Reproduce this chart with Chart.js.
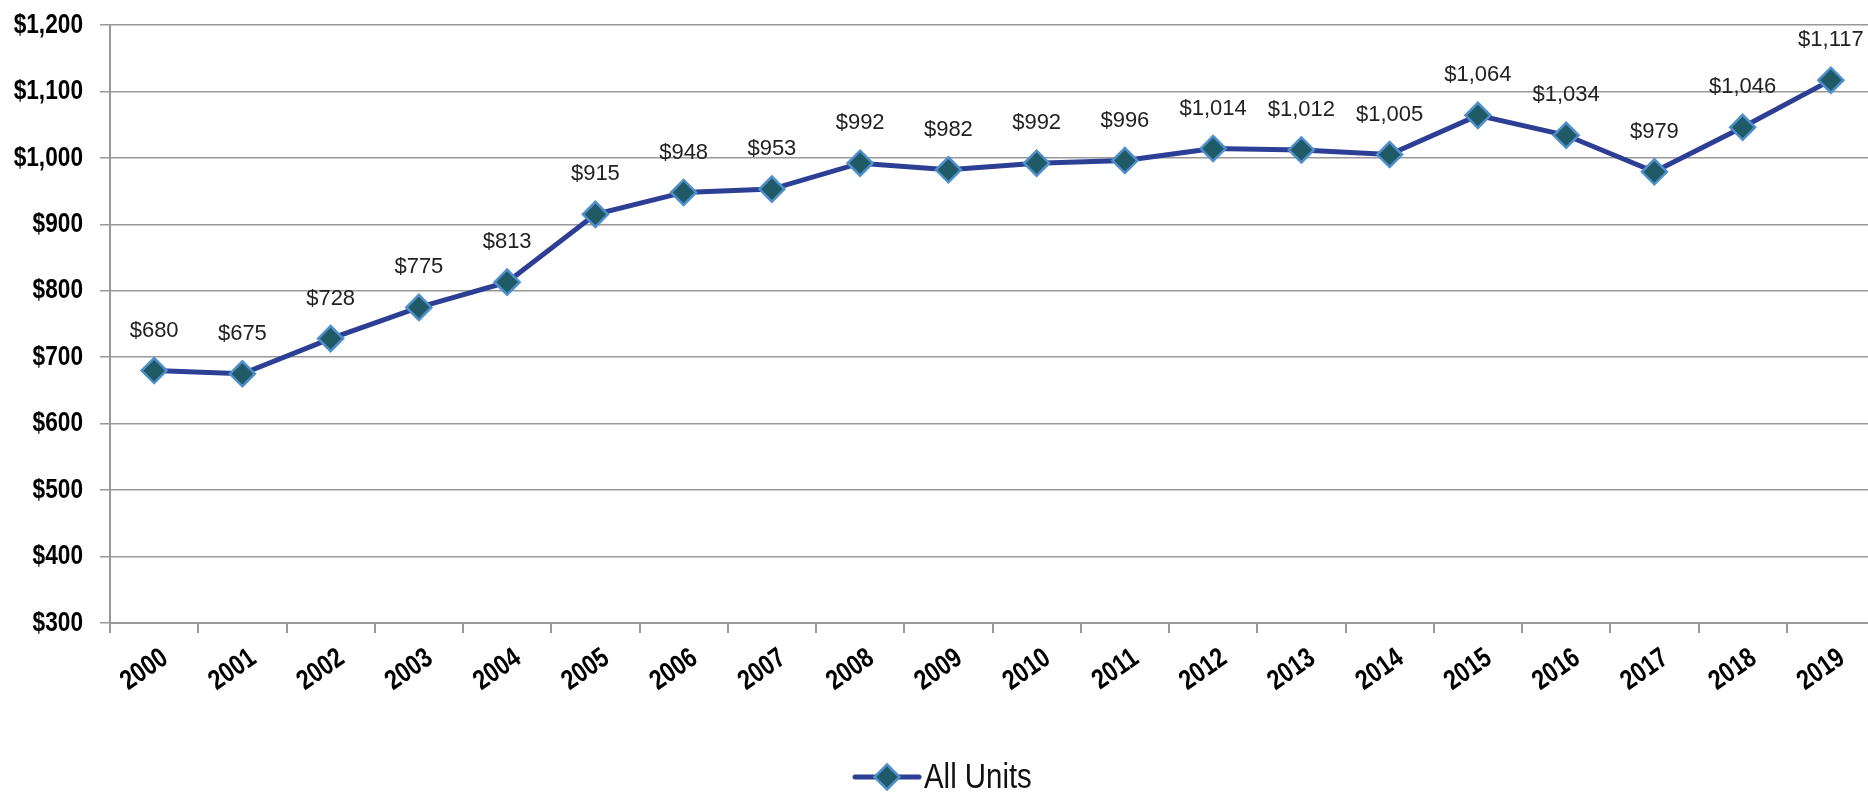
<!DOCTYPE html>
<html>
<head>
<meta charset="utf-8">
<script src="https://cdn.jsdelivr.net/npm/chart.js@4.4.0/dist/chart.umd.min.js"></script>
<style>
    html, body { margin: 0; padding: 0; background: #fff; overflow: hidden; }
    .chart-container { position: relative; width: 1890px; height: 797px; }
</style>
</head>
<body>
<div class="chart-container"><canvas id="rentChart" width="1890" height="797"></canvas></div>
<script>
const years = ["2000", "2001", "2002", "2003", "2004", "2005", "2006", "2007", "2008", "2009",
    "2010", "2011", "2012", "2013", "2014", "2015", "2016", "2017", "2018", "2019"];
const allUnits = [680, 675, 728, 775, 813, 915, 948, 953, 992, 982,
    992, 996, 1014, 1012, 1005, 1064, 1034, 979, 1046, 1117];
const yTicks = [300, 400, 500, 600, 700, 800, 900, 1000, 1100, 1200];
const seriesName = "All Units";

const LINE_COLOR = "#2c3f95";
const MARKER_FILL = "#1f5a66";
const MARKER_EDGE = "#4f8fcb";
const FONT = "'Liberation Sans', Arial, sans-serif";
const NARROW = 0.81; // no Arial Narrow here, so squeeze the text horizontally

function money(v) {
    return "$" + v.toLocaleString("en-US");
}

function squeezedText(ctx, text, x, y, angle, scaleX) {
    ctx.save();
    ctx.translate(x, y);
    if (angle) ctx.rotate(angle);
    ctx.scale(scaleX, 1);
    ctx.fillText(text, 0, 0);
    ctx.restore();
}

// axis labels, value labels and legend drawn by hand (narrow font look)
const chartText = {
    id: "chartText",
    afterDraw(chart) {
        const ctx = chart.ctx;
        const xs = chart.scales.x;
        const ys = chart.scales.y;
        const area = chart.chartArea;
        ctx.save();
        ctx.fillStyle = "#000";

        // y tick labels
        ctx.font = "bold 28px " + FONT;
        ctx.textAlign = "right";
        ctx.textBaseline = "middle";
        ys.ticks.forEach(function (t) {
            squeezedText(ctx, money(t.value), area.left - 27, ys.getPixelForValue(t.value), 0, NARROW);
        });

        // x tick labels, rotated
        ctx.font = "bold 28px " + FONT;
        ctx.textAlign = "right";
        ctx.textBaseline = "top";
        years.forEach(function (y, i) {
            squeezedText(ctx, y, xs.getPixelForTick(i) + 3, area.bottom + 21, -35 * Math.PI / 180, NARROW);
        });

        // value labels above points
        const meta = chart.getDatasetMeta(0);
        ctx.font = "22px " + FONT;
        ctx.fillStyle = "#222";
        ctx.textAlign = "center";
        ctx.textBaseline = "middle";
        meta.data.forEach(function (pt, i) {
            ctx.fillText(money(allUnits[i]), pt.x, pt.y - 40);
        });

        // legend
        const lx = chart.width / 2 - 90;
        const ly = 777;
        ctx.strokeStyle = LINE_COLOR;
        ctx.lineWidth = 5;
        ctx.lineCap = "round";
        ctx.beginPath();
        ctx.moveTo(lx, ly);
        ctx.lineTo(lx + 64, ly);
        ctx.stroke();
        ctx.beginPath();
        ctx.moveTo(lx + 32, ly - 12.5);
        ctx.lineTo(lx + 44.5, ly);
        ctx.lineTo(lx + 32, ly + 12.5);
        ctx.lineTo(lx + 19.5, ly);
        ctx.closePath();
        ctx.fillStyle = MARKER_FILL;
        ctx.fill();
        ctx.lineWidth = 2.5;
        ctx.strokeStyle = MARKER_EDGE;
        ctx.stroke();
        ctx.fillStyle = "#111";
        ctx.font = "35px " + FONT;
        ctx.textAlign = "left";
        squeezedText(ctx, seriesName, lx + 69, ly + 1, 0, 0.84);

        ctx.restore();
    }
};

new Chart(document.getElementById("rentChart"), {
    type: "line",
    data: {
        labels: years,
        datasets: [{
            label: seriesName,
            data: allUnits,
            borderColor: LINE_COLOR,
            borderWidth: 5,
            pointStyle: "rectRot",
            pointRadius: 12.5,
            pointHoverRadius: 12.5,
            pointBackgroundColor: MARKER_FILL,
            pointBorderColor: MARKER_EDGE,
            pointBorderWidth: 2.5,
            tension: 0
        }]
    },
    options: {
        responsive: false,
        animation: false,
        layout: {padding: {left: 100, right: 5, top: 25, bottom: 0}},
        plugins: {
            legend: {display: false},
            tooltip: {enabled: false}
        },
        scales: {
            x: {
                offset: true,
                afterFit: function (axis) {
                    axis.height = 174;
                },
                grid: {
                    offset: true,
                    drawOnChartArea: false,
                    drawTicks: true,
                    tickLength: 10,
                    color: "#999",
                    lineWidth: 2
                },
                border: {color: "#999", width: 2},
                ticks: {display: false, autoSkip: false}
            },
            y: {
                min: 300,
                max: 1200,
                afterBuildTicks: function (axis) {
                    axis.ticks = yTicks.map(function (v) { return {value: v}; });
                },
                grid: {
                    color: "#999",
                    lineWidth: 1.5,
                    tickLength: 10
                },
                border: {color: "#999", width: 2},
                ticks: {display: false}
            }
        }
    },
    plugins: [chartText]
});
</script>
</body>
</html>
